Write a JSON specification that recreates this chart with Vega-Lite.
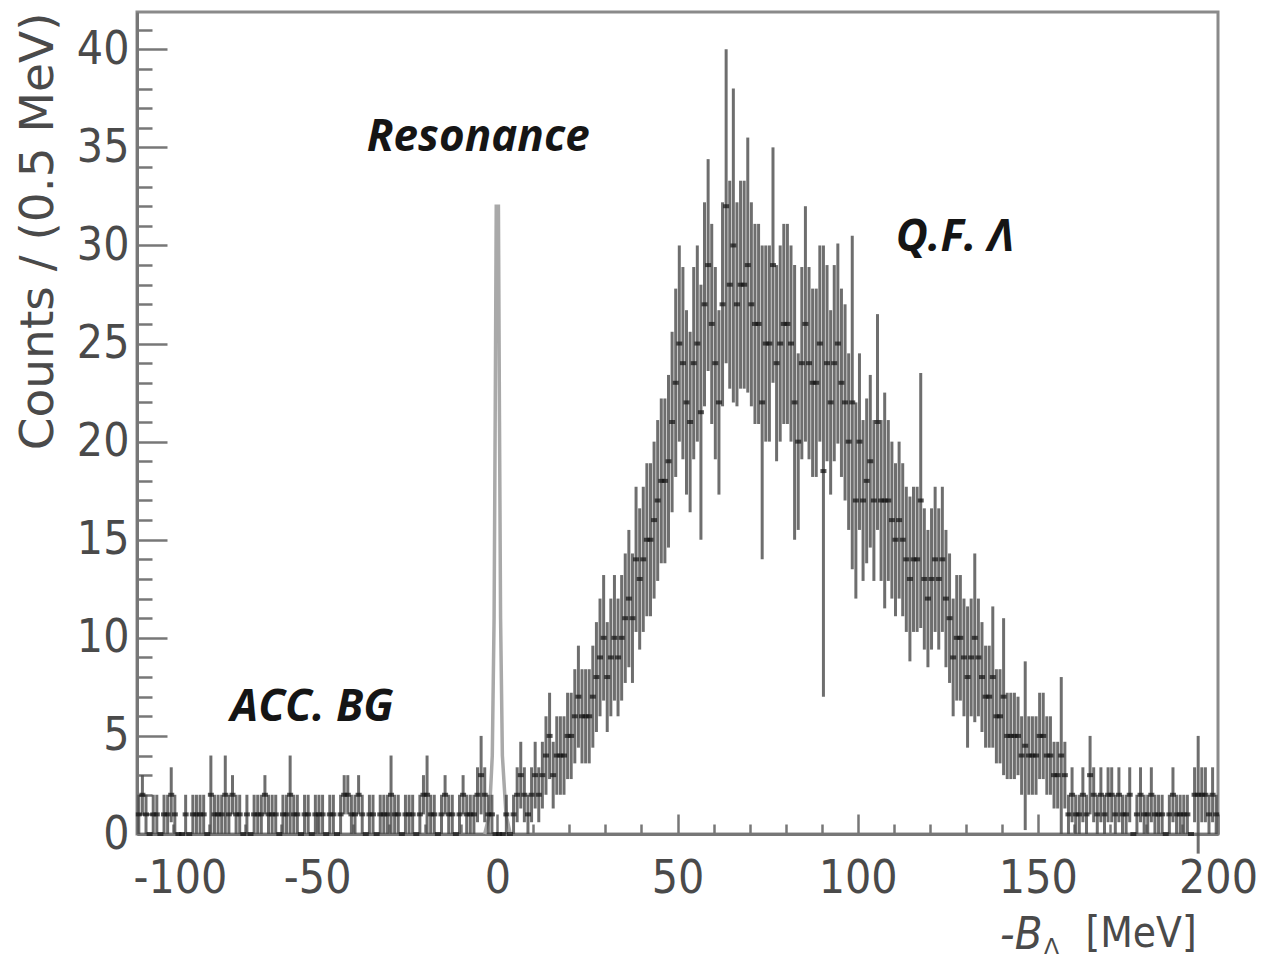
{
"$schema":"https://vega.github.io/schema/vega-lite/v6.json",
"width":1081,"height":822,
"autosize":{"type":"none"},
"padding":{"left":137,"top":12,"right":52,"bottom":125},
"background":"white",
"config":{"view":{"stroke":"#8a8a8a","strokeWidth":3},"axis":{"grid":false}},
"datasets":{
"hist":[
{"x":-99.5,"y":1,"e":1},{"x":-98.5,"y":2,"e":1},{"x":-97.5,"y":1,"e":1},{"x":-96.5,"y":0,"e":0},{"x":-95.5,"y":1,"e":1},{"x":-94.5,"y":1,"e":1},{"x":-93.5,"y":0,"e":0},{"x":-92.5,"y":1,"e":1},{"x":-91.5,"y":1,"e":1},{"x":-90.5,"y":2,"e":1.4},
{"x":-89.5,"y":1,"e":1},{"x":-88.5,"y":0,"e":0},{"x":-87.5,"y":0,"e":0},{"x":-86.5,"y":1,"e":1},{"x":-85.5,"y":0,"e":0},{"x":-84.5,"y":1,"e":1},{"x":-83.5,"y":1,"e":1},{"x":-82.5,"y":1,"e":1},{"x":-81.5,"y":1,"e":1},{"x":-80.5,"y":0,"e":0},
{"x":-79.5,"y":2,"e":2},{"x":-78.5,"y":1,"e":1},{"x":-77.5,"y":1,"e":1},{"x":-76.5,"y":1,"e":1},{"x":-75.5,"y":2,"e":2},{"x":-74.5,"y":1,"e":1},{"x":-73.5,"y":2,"e":1},{"x":-72.5,"y":1,"e":1},{"x":-71.5,"y":1,"e":1},{"x":-70.5,"y":0,"e":0},
{"x":-69.5,"y":1,"e":1},{"x":-68.5,"y":0,"e":0},{"x":-67.5,"y":1,"e":1},{"x":-66.5,"y":1,"e":1},{"x":-65.5,"y":1,"e":1},{"x":-64.5,"y":2,"e":1},{"x":-63.5,"y":1,"e":1},{"x":-62.5,"y":1,"e":1},{"x":-61.5,"y":1,"e":1},{"x":-60.5,"y":0,"e":0},
{"x":-59.5,"y":1,"e":1},{"x":-58.5,"y":1,"e":1},{"x":-57.5,"y":2,"e":2},{"x":-56.5,"y":1,"e":1},{"x":-55.5,"y":1,"e":1},{"x":-54.5,"y":0,"e":0},{"x":-53.5,"y":1,"e":1},{"x":-52.5,"y":1,"e":1},{"x":-51.5,"y":0,"e":0},{"x":-50.5,"y":1,"e":1},
{"x":-49.5,"y":1,"e":1},{"x":-48.5,"y":1,"e":1},{"x":-47.5,"y":0,"e":0},{"x":-46.5,"y":1,"e":1},{"x":-45.5,"y":1,"e":1},{"x":-44.5,"y":0,"e":0},{"x":-43.5,"y":1,"e":1},{"x":-42.5,"y":2,"e":1},{"x":-41.5,"y":2,"e":1},{"x":-40.5,"y":1,"e":1},
{"x":-39.5,"y":1,"e":1},{"x":-38.5,"y":2,"e":1},{"x":-37.5,"y":1,"e":1},{"x":-36.5,"y":0,"e":0},{"x":-35.5,"y":1,"e":1},{"x":-34.5,"y":1,"e":1},{"x":-33.5,"y":0,"e":0},{"x":-32.5,"y":1,"e":1},{"x":-31.5,"y":1,"e":1},{"x":-30.5,"y":1,"e":1},
{"x":-29.5,"y":2,"e":2},{"x":-28.5,"y":1,"e":1},{"x":-27.5,"y":1,"e":1},{"x":-26.5,"y":0,"e":0},{"x":-25.5,"y":1,"e":1},{"x":-24.5,"y":1,"e":1},{"x":-23.5,"y":1,"e":1},{"x":-22.5,"y":0,"e":0},{"x":-21.5,"y":1,"e":1},{"x":-20.5,"y":2,"e":1},
{"x":-19.5,"y":2,"e":2},{"x":-18.5,"y":1,"e":1},{"x":-17.5,"y":1,"e":1},{"x":-16.5,"y":0,"e":0},{"x":-15.5,"y":1,"e":1},{"x":-14.5,"y":2,"e":1},{"x":-13.5,"y":1,"e":1},{"x":-12.5,"y":1,"e":1},{"x":-11.5,"y":0,"e":0},{"x":-10.5,"y":1,"e":1},
{"x":-9.5,"y":2,"e":1},{"x":-8.5,"y":1,"e":1},{"x":-7.5,"y":1,"e":1},{"x":-6.5,"y":1,"e":1},{"x":-5.5,"y":2,"e":1.4},{"x":-4.5,"y":3,"e":2},{"x":-3.5,"y":2,"e":1.4},{"x":-2.5,"y":1,"e":1},{"x":-1.5,"y":1,"e":1},{"x":-0.5,"y":0,"e":0},
{"x":0.5,"y":0,"e":0},{"x":1.5,"y":0,"e":0},{"x":2.5,"y":1,"e":1},{"x":3.5,"y":0,"e":0},{"x":4.5,"y":1,"e":1},{"x":5.5,"y":2,"e":1.4},{"x":6.5,"y":3,"e":1.7},{"x":7.5,"y":2,"e":1.4},{"x":8.5,"y":1,"e":1},{"x":9.5,"y":2,"e":1.4},
{"x":10.5,"y":3,"e":1.7},{"x":11.5,"y":2,"e":1.4},{"x":12.5,"y":3,"e":1.7},{"x":13.5,"y":4,"e":2},{"x":14.5,"y":5,"e":2.2},{"x":15.5,"y":3,"e":1.7},{"x":16.5,"y":4,"e":2},{"x":17.5,"y":4,"e":2},{"x":18.5,"y":4,"e":2},{"x":19.5,"y":5,"e":2.2},
{"x":20.5,"y":5,"e":2.2},{"x":21.5,"y":6,"e":2.4},{"x":22.5,"y":7,"e":2.6},{"x":23.5,"y":6,"e":2.4},{"x":24.5,"y":6,"e":2.4},{"x":25.5,"y":6,"e":2.4},{"x":26.5,"y":7,"e":2.6},{"x":27.5,"y":8,"e":2.8},{"x":28.5,"y":9,"e":3},{"x":29.5,"y":10,"e":3.2},
{"x":30.5,"y":8,"e":2.8},{"x":31.5,"y":9,"e":3},{"x":32.5,"y":10,"e":3.2},{"x":33.5,"y":9,"e":3},{"x":34.5,"y":10,"e":3.2},{"x":35.5,"y":11,"e":3.3},{"x":36.5,"y":12,"e":3.5},{"x":37.5,"y":11,"e":3.3},{"x":38.5,"y":14,"e":3.7},{"x":39.5,"y":13,"e":3.6},
{"x":40.5,"y":14,"e":3.7},{"x":41.5,"y":15,"e":3.9},{"x":42.5,"y":15,"e":3.9},{"x":43.5,"y":16,"e":4},{"x":44.5,"y":17,"e":4.1},{"x":45.5,"y":18,"e":4.2},{"x":46.5,"y":18,"e":4.2},{"x":47.5,"y":19,"e":4.4},{"x":48.5,"y":21,"e":4.6},{"x":49.5,"y":23,"e":4.8},
{"x":50.5,"y":25,"e":5},{"x":51.5,"y":24,"e":4.9},{"x":52.5,"y":22,"e":4.7},{"x":53.5,"y":21,"e":4.6},{"x":54.5,"y":24,"e":4.9},{"x":55.5,"y":25,"e":5},{"x":56.5,"y":21.5,"e":6.5},{"x":57.5,"y":27,"e":5.2},{"x":58.5,"y":29,"e":5.4},{"x":59.5,"y":26,"e":5.1},
{"x":60.5,"y":24,"e":4.9},{"x":61.5,"y":22,"e":4.7},{"x":62.5,"y":27,"e":5.2},{"x":63.5,"y":32,"e":8},{"x":64.5,"y":28,"e":5.3},{"x":65.5,"y":30,"e":8},{"x":66.5,"y":27,"e":5.2},{"x":67.5,"y":28,"e":5.3},{"x":68.5,"y":28,"e":5.3},{"x":69.5,"y":29,"e":6.5},
{"x":70.5,"y":27,"e":5.2},{"x":71.5,"y":26,"e":5.1},{"x":72.5,"y":26,"e":5.1},{"x":73.5,"y":22,"e":8},{"x":74.5,"y":25,"e":5},{"x":75.5,"y":25,"e":5},{"x":76.5,"y":29,"e":6},{"x":77.5,"y":24,"e":5},{"x":78.5,"y":25,"e":5},{"x":79.5,"y":26,"e":5.1},
{"x":80.5,"y":26,"e":5.1},{"x":81.5,"y":25,"e":5},{"x":82.5,"y":22,"e":7},{"x":83.5,"y":20,"e":4.5},{"x":84.5,"y":24,"e":4.9},{"x":85.5,"y":26,"e":6},{"x":86.5,"y":24,"e":4.9},{"x":87.5,"y":23,"e":4.8},{"x":88.5,"y":23,"e":4.8},{"x":89.5,"y":25,"e":5},
{"x":90.5,"y":18.5,"e":11.5},{"x":91.5,"y":24,"e":5},{"x":92.5,"y":22,"e":4.7},{"x":93.5,"y":24,"e":5},{"x":94.5,"y":25,"e":5.1},{"x":95.5,"y":23,"e":4.8},{"x":96.5,"y":22,"e":5},{"x":97.5,"y":20,"e":4.5},{"x":98.5,"y":22,"e":8.5},{"x":99.5,"y":17,"e":5},
{"x":100.5,"y":20,"e":4.5},{"x":101.5,"y":17,"e":4.1},{"x":102.5,"y":18,"e":4.2},{"x":103.5,"y":19,"e":4.4},{"x":104.5,"y":17,"e":4.1},{"x":105.5,"y":21,"e":5.5},{"x":106.5,"y":17,"e":4.1},{"x":107.5,"y":17,"e":5.5},{"x":108.5,"y":17,"e":4.1},{"x":109.5,"y":16,"e":4},
{"x":110.5,"y":15,"e":3.9},{"x":111.5,"y":16,"e":4},{"x":112.5,"y":15,"e":3.9},{"x":113.5,"y":14,"e":3.7},{"x":114.5,"y":13,"e":4.2},{"x":115.5,"y":14,"e":3.7},{"x":116.5,"y":14,"e":3.7},{"x":117.5,"y":17,"e":6.5},{"x":118.5,"y":13,"e":3.6},{"x":119.5,"y":12,"e":3.5},
{"x":120.5,"y":13,"e":3.6},{"x":121.5,"y":14,"e":3.7},{"x":122.5,"y":13,"e":3.6},{"x":123.5,"y":14,"e":3.7},{"x":124.5,"y":12,"e":3.5},{"x":125.5,"y":11,"e":3.3},{"x":126.5,"y":9,"e":3},{"x":127.5,"y":10,"e":3.2},{"x":128.5,"y":10,"e":3.2},{"x":129.5,"y":9,"e":3},
{"x":130.5,"y":8,"e":3.6},{"x":131.5,"y":9,"e":3},{"x":132.5,"y":10,"e":4.3},{"x":133.5,"y":9,"e":3},{"x":134.5,"y":8,"e":2.8},{"x":135.5,"y":7,"e":2.6},{"x":136.5,"y":7,"e":2.6},{"x":137.5,"y":8,"e":3.6},{"x":138.5,"y":6,"e":2.4},{"x":139.5,"y":6,"e":2.4},
{"x":140.5,"y":7,"e":4},{"x":141.5,"y":5,"e":2.2},{"x":142.5,"y":5,"e":2.2},{"x":143.5,"y":5,"e":2.2},{"x":144.5,"y":5,"e":2},{"x":145.5,"y":4,"e":2},{"x":146.5,"y":4.5,"e":4.3},{"x":147.5,"y":4,"e":2},{"x":148.5,"y":4,"e":2},{"x":149.5,"y":4,"e":2},
{"x":150.5,"y":5,"e":2.2},{"x":151.5,"y":5,"e":2.2},{"x":152.5,"y":4,"e":2},{"x":153.5,"y":4,"e":2},{"x":154.5,"y":3,"e":1.7},{"x":155.5,"y":3,"e":1.7},{"x":156.5,"y":4,"e":4},{"x":157.5,"y":3,"e":1.7},{"x":158.5,"y":1,"e":1},{"x":159.5,"y":2,"e":1.4},
{"x":160.5,"y":1,"e":1},{"x":161.5,"y":1,"e":1},{"x":162.5,"y":2,"e":1.4},{"x":163.5,"y":1,"e":1},{"x":164.5,"y":3,"e":2},{"x":165.5,"y":2,"e":1.4},{"x":166.5,"y":1,"e":1},{"x":167.5,"y":2,"e":1.4},{"x":168.5,"y":1,"e":1},{"x":169.5,"y":2,"e":1.4},
{"x":170.5,"y":2,"e":1.4},{"x":171.5,"y":1,"e":1},{"x":172.5,"y":2,"e":1.4},{"x":173.5,"y":1,"e":1},{"x":174.5,"y":1,"e":1},{"x":175.5,"y":2,"e":1.4},{"x":176.5,"y":0,"e":0},{"x":177.5,"y":1,"e":1},{"x":178.5,"y":2,"e":1.4},{"x":179.5,"y":1,"e":1},
{"x":180.5,"y":1,"e":1},{"x":181.5,"y":2,"e":1.4},{"x":182.5,"y":1,"e":1},{"x":183.5,"y":1,"e":1},{"x":184.5,"y":1,"e":1},{"x":185.5,"y":0,"e":0},{"x":186.5,"y":1,"e":1},{"x":187.5,"y":2,"e":1.4},{"x":188.5,"y":1,"e":1},{"x":189.5,"y":1,"e":1},
{"x":190.5,"y":1,"e":1},{"x":191.5,"y":1,"e":1},{"x":192.5,"y":0,"e":0},{"x":193.5,"y":2,"e":1.4},{"x":194.5,"y":2,"e":3},{"x":195.5,"y":2,"e":1.4},{"x":196.5,"y":2,"e":1.4},{"x":197.5,"y":1,"e":1},{"x":198.5,"y":2,"e":1.4},{"x":199.5,"y":1,"e":1}
],
"res":[{"x":-3.5,"y":0},{"x":-2.2,"y":1},{"x":-1.4,"y":4},{"x":-0.9,"y":11},{"x":-0.6,"y":21},{"x":-0.3,"y":32},{"x":0.3,"y":32},{"x":0.6,"y":21},{"x":0.9,"y":11},{"x":1.4,"y":4},{"x":2.4,"y":1},{"x":3.6,"y":0}],
"notes":[{"x":-5.3,"y":35.5,"t":"Resonance"},{"x":127,"y":30.4,"t":"Q.F. Λ"},{"x":-51.4,"y":6.4,"t":"ACC. BG"}]
},
"layer":[
{"data":{"name":"res"},
 "mark":{"type":"line","color":"#a9a9a9","strokeWidth":3.5},
 "encoding":{
  "x":{"field":"x","type":"quantitative","scale":{"domain":[-100,200],"nice":false,"zero":false},
   "axis":{"orient":"bottom","domain":false,"ticks":false,"labels":false,"title":"Λ","titleFont":"DejaVu Sans","titleFontSize":22,"titleFontWeight":"normal","titleColor":"#4a4a4a","titleAlign":"center","titleBaseline":"alphabetic","titleX":914,"titleY":119}},
  "y":{"field":"y","type":"quantitative","scale":{"domain":[0,41.9],"nice":false,"zero":false},"axis":null}}},
{"data":{"name":"hist"},
 "mark":{"type":"errorbar","color":"#4a4a4a","opacity":0.8,"thickness":3},
 "encoding":{
  "x":{"field":"x","type":"quantitative","scale":{"domain":[-100,200],"nice":false,"zero":false},
   "axis":{"orient":"bottom","values":[-100,-50,0,50,100,150,200],"tickSize":-20,"tickWidth":2.5,"tickColor":"#777","domainColor":"#777","domainWidth":3,
    "labelFont":"DejaVu Sans Condensed","labelFontSize":46,"labelColor":"#4a4a4a","labelPadding":42,"labelFlush":false,
    "labelAlign":{"condition":{"test":"datum.value == -100","value":"left"},"value":"center"},
    "labelOffset":{"condition":{"test":"datum.value == -100","value":-4},"value":0},
    "labelExpr":"replace(datum.label, '−', '-')",
    "title":"[MeV]","titleFont":"DejaVu Sans Condensed","titleFontSize":42,"titleFontWeight":"normal","titleColor":"#4a4a4a","titleAlign":"left","titleBaseline":"alphabetic","titleX":948,"titleY":112}},
  "y":{"field":"y","type":"quantitative","scale":{"domain":[0,41.9],"nice":false,"zero":false},
   "axis":{"orient":"left","values":[0,5,10,15,20,25,30,35,40],"tickSize":-30,"tickWidth":2.5,"tickColor":"#777","domainColor":"#777","domainWidth":3,
    "labelFont":"DejaVu Sans Condensed","labelFontSize":46,"labelColor":"#4a4a4a","labelPadding":38,"labelFlush":false,
    "title":"Counts / (0.5 MeV)","titleFont":"DejaVu Sans","titleFontSize":47,"titleFontWeight":"normal","titleColor":"#4a4a4a","titleAnchor":"end","titlePadding":14}},
  "yError":{"field":"e"}}},
{"data":{"name":"hist"},
 "mark":{"type":"tick","orient":"horizontal","color":"#111111","size":6,"thickness":4},
 "encoding":{
  "x":{"field":"x","type":"quantitative","scale":{"domain":[-100,200],"nice":false,"zero":false},
   "axis":{"orient":"bottom","values":[-90,-80,-70,-60,-40,-30,-20,-10,10,20,30,40,60,70,80,90,110,120,130,140,160,170,180,190],"tickSize":-10,"tickWidth":2.5,"tickColor":"#777","domain":false,"labels":false,"title":null}},
  "y":{"field":"y","type":"quantitative","scale":{"domain":[0,41.9],"nice":false,"zero":false},
   "axis":{"orient":"left","values":[1,2,3,4,6,7,8,9,11,12,13,14,16,17,18,19,21,22,23,24,26,27,28,29,31,32,33,34,36,37,38,39,41],"tickSize":-15,"tickWidth":2.5,"tickColor":"#777","domain":false,"labels":false,"title":null}}}},
{"data":{"name":"notes"},
 "mark":{"type":"text","font":"Open Sans","fontSize":44,"fontWeight":"bold","fontStyle":"italic","color":"#151515","align":"center","baseline":"middle"},
 "encoding":{
  "x":{"field":"x","type":"quantitative","scale":{"domain":[-100,200],"nice":false,"zero":false},
   "axis":{"orient":"bottom","domain":false,"ticks":false,"labels":false,"title":"-B","titleFont":"DejaVu Sans Condensed","titleFontSize":45,"titleFontWeight":"normal","titleFontStyle":"italic","titleColor":"#4a4a4a","titleAlign":"right","titleBaseline":"alphabetic","titleX":905,"titleY":114}},
  "y":{"field":"y","type":"quantitative","scale":{"domain":[0,41.9],"nice":false,"zero":false},"axis":null},
  "text":{"field":"t","type":"nominal"}}}
],
"resolve":{"scale":{"x":"independent","y":"independent"}}
}
